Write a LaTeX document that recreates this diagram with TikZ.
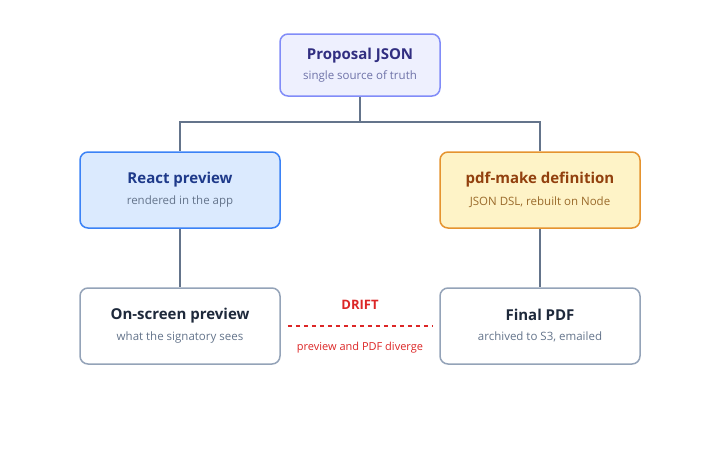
\documentclass[tikz,border=0pt]{standalone}
\usepackage{fontspec}
\setmainfont{Open Sans}
\usepackage{tikz}
\usetikzlibrary{positioning}
\definecolor{srcfill}{HTML}{EEF0FE}
\definecolor{srcdraw}{HTML}{818CF8}
\definecolor{srctext}{HTML}{312E81}
\definecolor{srcsub}{HTML}{6E72A8}
\definecolor{reactfill}{HTML}{DBEAFE}
\definecolor{reactdraw}{HTML}{3B82F6}
\definecolor{reacttext}{HTML}{1E3A8A}
\definecolor{pdffill}{HTML}{FEF3C7}
\definecolor{pdfdraw}{HTML}{E5932F}
\definecolor{pdftext}{HTML}{92400E}
\definecolor{pdfsub}{HTML}{9A6A2A}
\definecolor{outdraw}{HTML}{94A3B8}
\definecolor{outtext}{HTML}{1E293B}
\definecolor{subgray}{HTML}{64748B}
\definecolor{linkgray}{HTML}{64748B}
\definecolor{driftred}{HTML}{DC2626}

\begin{document}
\begin{tikzpicture}[
        x=1pt, y=-1pt,
        card/.style={rectangle, line width=1.5pt, rounded corners=8pt, minimum width=200pt, minimum height=76pt, align=center, inner sep=0pt},
        link/.style={draw=linkgray, line width=1.5pt},
        drift/.style={draw=driftred, line width=1.3pt, dash pattern=on 4pt off 4pt}
    ]
    \newcommand{\cardtext}[2]{{\fontsize{15}{17}\selectfont\bfseries #1}\\[8pt]{\fontsize{11.5}{13}\selectfont #2}}
    \useasboundingbox (0,0) rectangle (720,456);

    % Fuente
    \node[card, minimum width=160pt, minimum height=62pt, fill=srcfill, draw=srcdraw, text=srctext] (proposal) at (360,65)
        {{\fontsize{15}{17}\selectfont\bfseries Proposal JSON}\\[6pt]{\fontsize{11.5}{13}\selectfont\color{srcsub}single source of truth}};

    % Renderizadores
    \node[card, fill=reactfill, draw=reactdraw, text=reacttext] (react) at (180,190)
        {\cardtext{React preview}{\color{subgray}rendered in the app}};
    \node[card, fill=pdffill, draw=pdfdraw, text=pdftext] (pdfmake) at (540,190)
        {\cardtext{pdf-make definition}{\color{pdfsub}JSON DSL, rebuilt on Node}};

    % Salidas
    \node[card, fill=white, draw=outdraw, text=outtext] (onscreen) at (180,326)
        {\cardtext{On-screen preview}{\color{subgray}what the signatory sees}};
    \node[card, fill=white, draw=outdraw, text=outtext] (finalpdf) at (540,326)
        {\cardtext{Final PDF}{\color{subgray}archived to S3, emailed}};

    % Conectores
    \coordinate (fork) at (360,122);
    \draw[link] (proposal.south) -- (fork);
    \draw[link] (fork) -| (react.north);
    \draw[link] (fork) -| (pdfmake.north);
    \draw[link] (react.south) -- (onscreen.north);
    \draw[link] (pdfmake.south) -- (finalpdf.north);

    % Deriva
    \draw[drift] ([xshift=7pt]onscreen.east) -- ([xshift=-7pt]finalpdf.west)
        node[midway, above=13pt, text=driftred, font=\fontsize{13}{15}\selectfont\bfseries] (driftlabel) {DRIFT}
        node[midway, below=12pt, text=driftred, font=\fontsize{11}{13}\selectfont] (driftnote) {preview and PDF diverge};
\end{tikzpicture}
\end{document}
